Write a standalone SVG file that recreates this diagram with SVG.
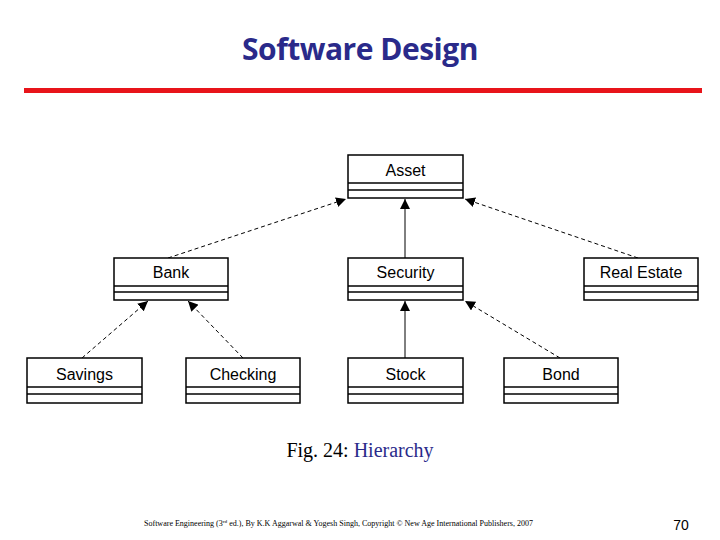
<svg xmlns="http://www.w3.org/2000/svg" width="720" height="540" viewBox="0 0 720 540">
<style>
.box rect{fill:#fff;stroke:#000;stroke-width:1.5}
.box line{stroke:#000;stroke-width:1.5}
.box text{font-family:"Liberation Sans",Arial,sans-serif;font-size:16px;text-anchor:middle}
.c line{stroke:#000;stroke-width:1}
.d{stroke-dasharray:4,3}
</style>
<defs><marker id="a" viewBox="0 0 10 10" refX="10" refY="5" markerWidth="10" markerHeight="10" markerUnits="userSpaceOnUse" orient="auto"><path d="M0,0L10,5L0,10z" fill="#000"/></marker></defs>
<rect width="720" height="540" fill="#fff"/>
<text x="360" y="60" font-family="Open Sans,Lato,sans-serif" font-weight="bold" font-size="30" fill="#2a2a8a" text-anchor="middle" letter-spacing="-0.5">Software Design</text>
<rect x="24" y="88" width="678" height="5" fill="#e8141a"/>
<g class="c">
<line class="d" x1="168" y1="258" x2="346" y2="199" marker-end="url(#a)"/>
<line class="d" x1="638" y1="258" x2="465" y2="199" marker-end="url(#a)"/>
<line x1="405" y1="258" x2="405" y2="199" marker-end="url(#a)"/>
<line class="d" x1="82" y1="358" x2="148" y2="301" marker-end="url(#a)"/>
<line class="d" x1="243" y1="358" x2="188" y2="301" marker-end="url(#a)"/>
<line x1="405" y1="358" x2="405" y2="301" stroke-width="2" marker-end="url(#a)"/>
<line class="d" x1="560" y1="358" x2="465" y2="301" marker-end="url(#a)"/>
</g>
<g id="asset" class="box"><rect x="348" y="155" width="115" height="43"/><line x1="348" y1="183" x2="463" y2="183"/><line x1="348" y1="190" x2="463" y2="190"/><text x="405.5" y="176">Asset</text></g>
<g id="bank" class="box"><rect x="114" y="258" width="114" height="42"/><line x1="114" y1="286" x2="228" y2="286"/><line x1="114" y1="292" x2="228" y2="292"/><text x="171" y="278">Bank</text></g>
<g id="security" class="box"><rect x="348" y="258" width="115" height="42"/><line x1="348" y1="286" x2="463" y2="286"/><line x1="348" y1="292" x2="463" y2="292"/><text x="405.5" y="278">Security</text></g>
<g id="realestate" class="box"><rect x="584" y="258" width="114" height="42"/><line x1="584" y1="286" x2="698" y2="286"/><line x1="584" y1="292" x2="698" y2="292"/><text x="641" y="278">Real Estate</text></g>
<g id="savings" class="box"><rect x="27" y="358" width="115" height="45"/><line x1="27" y1="387" x2="142" y2="387"/><line x1="27" y1="394" x2="142" y2="394"/><text x="84.5" y="380">Savings</text></g>
<g id="checking" class="box"><rect x="186" y="358" width="114" height="45"/><line x1="186" y1="387" x2="300" y2="387"/><line x1="186" y1="394" x2="300" y2="394"/><text x="243" y="380">Checking</text></g>
<g id="stock" class="box"><rect x="348" y="358" width="115" height="45"/><line x1="348" y1="387" x2="463" y2="387"/><line x1="348" y1="394" x2="463" y2="394"/><text x="405.5" y="380">Stock</text></g>
<g id="bond" class="box"><rect x="504" y="358" width="114" height="45"/><line x1="504" y1="387" x2="618" y2="387"/><line x1="504" y1="394" x2="618" y2="394"/><text x="561" y="380">Bond</text></g>
<text x="360" y="457" font-family="Liberation Serif,serif" font-size="20" text-anchor="middle">Fig. 24: <tspan fill="#2a2a8a">Hierarchy</tspan></text>
<text x="144" y="526" font-family="Liberation Serif,serif" font-size="7.6" textLength="389" lengthAdjust="spacingAndGlyphs">Software Engineering (3<tspan font-size="5" dy="-3">rd</tspan><tspan dy="3"> ed.), By K.K Aggarwal &amp; Yogesh Singh, Copyright © New Age International Publishers, 2007</tspan></text>
<text x="681" y="530" font-family="Liberation Sans,sans-serif" font-size="14" text-anchor="middle">70</text>
</svg>
